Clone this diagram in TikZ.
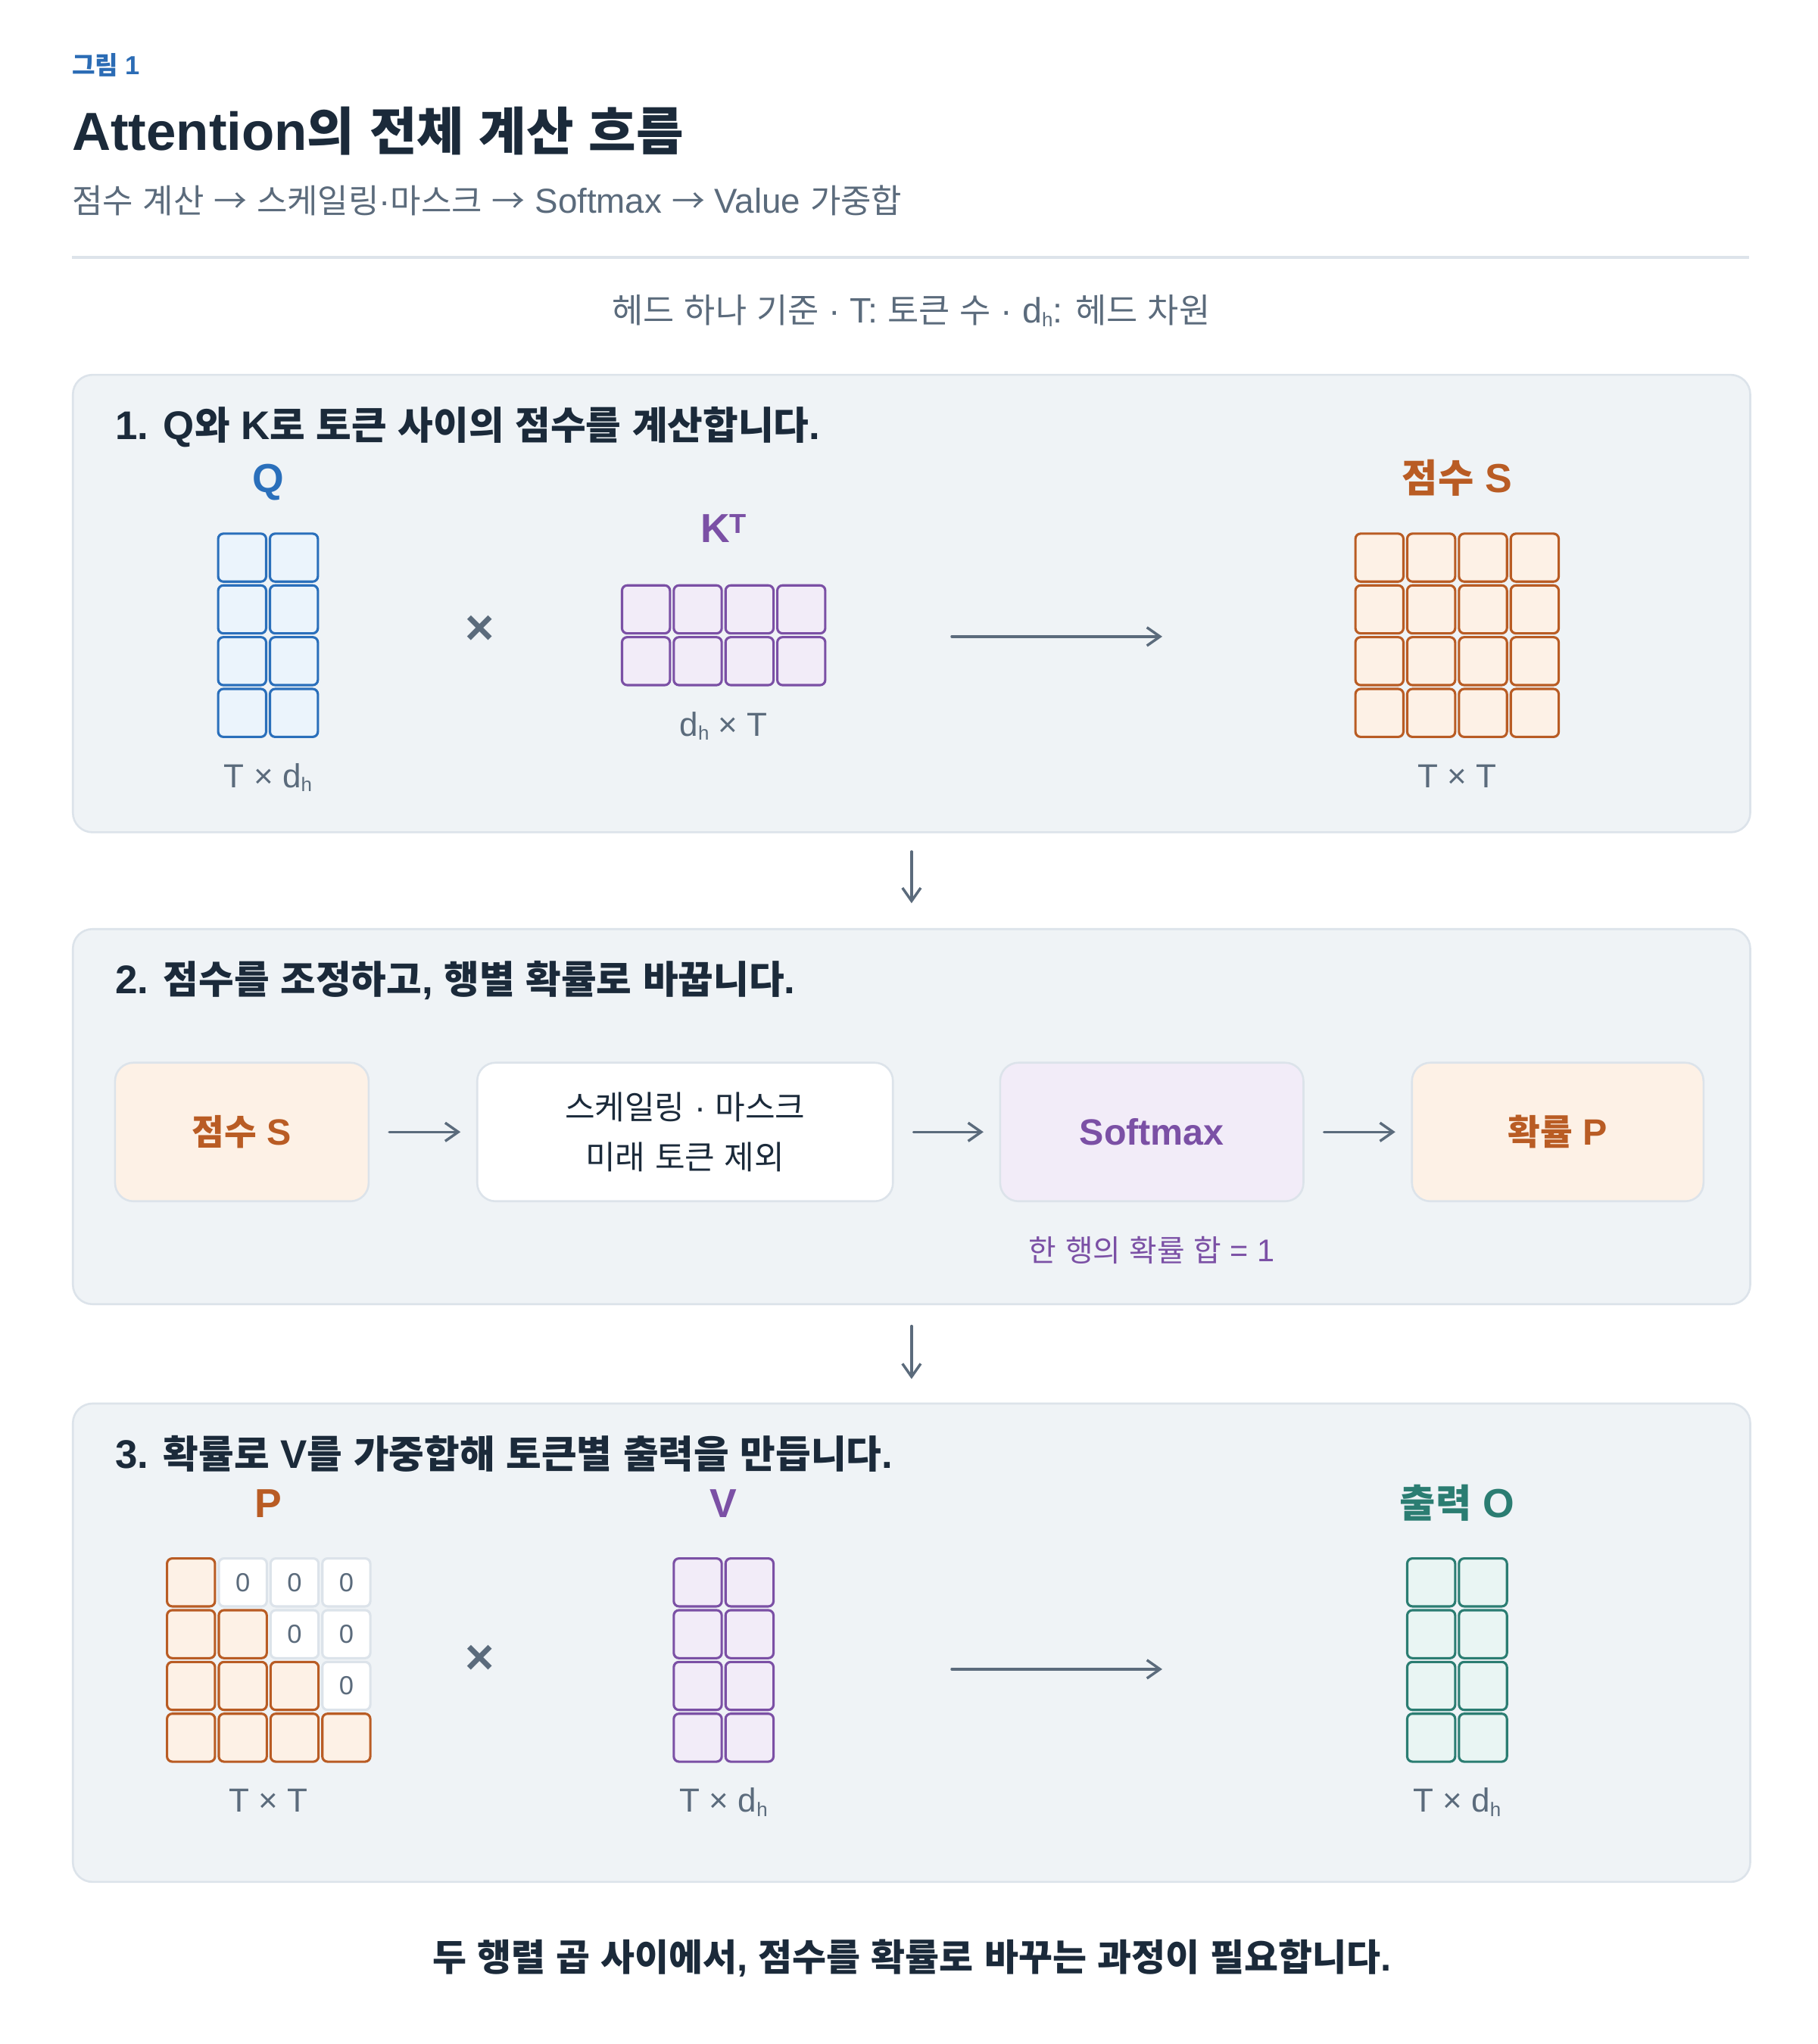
\documentclass[tikz,border=0pt]{standalone}
\usepackage{fontspec}
\setmainfont{Liberation Sans}
\newfontfamily\krfam{Noto Sans CJK KR}[Scale=0.96]
\usetikzlibrary{arrows.meta}
\XeTeXinterchartokenstate=1
\newXeTeXintercharclass\KRcls
\makeatletter
\@tempcnta="AC00
\loop
  \XeTeXcharclass\@tempcnta=\KRcls
  \ifnum\@tempcnta<"D7A3 \advance\@tempcnta\@ne
\repeat
\makeatother
\XeTeXinterchartoks 0 \KRcls = {\krfam}
\XeTeXinterchartoks 4095 \KRcls = {\krfam}
\XeTeXinterchartoks \KRcls 0 = {\rmfamily}
\XeTeXinterchartoks \KRcls 4095 = {\rmfamily}

\definecolor{ink}{HTML}{1B2A3A}
\definecolor{muted}{HTML}{5B6B7C}
\definecolor{figblue}{HTML}{2B6CB5}
\definecolor{rulec}{HTML}{DDE3EA}
\definecolor{panelfill}{HTML}{EFF3F6}
\definecolor{panelline}{HTML}{DCE3EA}
\definecolor{qblue}{HTML}{2A6FBB}
\definecolor{qfill}{HTML}{EBF4FC}
\definecolor{kpurple}{HTML}{7B50A5}
\definecolor{kfill}{HTML}{F2ECF8}
\definecolor{sorange}{HTML}{B95C24}
\definecolor{sfill}{HTML}{FDF1E6}
\definecolor{oteal}{HTML}{2B7D72}
\definecolor{ofill}{HTML}{E9F5F3}

\newcommand\hsub{\raisebox{-3pt}{\fontsize{15}{15}\selectfont h}}
\newcommand\tsup{\raisebox{7pt}{\fontsize{21}{21}\selectfont T}}
\newcommand\flowarrow{{\krfam →}}
\newcommand\matgrid[6]{%
  \foreach \cc in {1,...,#4}{\foreach \rr in {1,...,#5}{%
    \node[#6] (#1-\rr-\cc) at ({#2+(\cc-(#4+1)/2)*39.6},{#3+(\rr-(#5+1)/2)*39.6}) {};
  }}}

\tikzset{
  panel/.style={rectangle, rounded corners=15pt, draw=panelline, fill=panelfill, line width=1.5pt, inner sep=0pt},
  cellbase/.style={rectangle, rounded corners=4pt, minimum width=36.7pt, minimum height=36.7pt, inner sep=0pt, line width=1.8pt},
  qcell/.style={cellbase, draw=qblue, fill=qfill},
  kcell/.style={cellbase, draw=kpurple, fill=kfill},
  scell/.style={cellbase, draw=sorange, fill=sfill},
  ocell/.style={cellbase, draw=oteal, fill=ofill},
  zcell/.style={cellbase, draw=panelline, fill=white, text=muted, font=\fontsize{20}{20}\selectfont},
  mlabel/.style={anchor=base, inner sep=0pt, font=\bfseries\fontsize{31}{31}\selectfont},
  dimlabel/.style={anchor=base, inner sep=0pt, text=muted, font=\fontsize{25.5}{25.5}\selectfont},
  ptitle/.style={anchor=base west, inner sep=0pt, text=ink, font=\bfseries\fontsize{30.6}{30.6}\selectfont},
  timesop/.style={inner sep=0pt, text=muted, font=\bfseries\fontsize{38}{38}\selectfont},
  arr/.style={draw=muted, line width=2pt, line cap=round, -{Straight Barb[length=10pt,width=14pt,line width=2pt]}},
  flowbox/.style={rectangle, rounded corners=14pt, draw=panelline, line width=1.5pt, minimum height=106pt, inner sep=0pt, align=center},
}

\begin{document}
\begin{tikzpicture}[x=1pt,y=-1pt]
\fill[white] (0,0) rectangle (1390,1563.75);
\useasboundingbox (0,0) rectangle (1390,1563.75);

% header
\node[anchor=base west, inner sep=0pt, text=figblue, font=\bfseries\fontsize{20}{20}\selectfont] (fig) at (55,57) {그림 1};
\node[anchor=base west, inner sep=0pt, text=ink, font=\bfseries\fontsize{41}{41}\selectfont] (title) at (55,115) {Attention의 전체 계산 흐름};
\node[anchor=base west, inner sep=0pt, text=muted, font=\fontsize{26.5}{26.5}\selectfont] (sub) at (55,163) {점수 계산 \flowarrow{} 스케일링·마스크 \flowarrow{} Softmax \flowarrow{} Value 가중합};
\draw[rulec, line width=2.5pt] (55,197) -- (1338,197);
\node[anchor=base, inner sep=0pt, text=muted, font=\fontsize{27}{27}\selectfont] (note) at (697,247) {헤드 하나 기준 · T: 토큰 수 · d\hsub: 헤드 차원};

% panels
\node[panel, minimum width=1283pt, minimum height=350pt, anchor=north west] (p1) at (55,286) {};
\node[panel, minimum width=1283pt, minimum height=287pt, anchor=north west] (p2) at (55,710) {};
\node[panel, minimum width=1283pt, minimum height=366pt, anchor=north west] (p3) at (55,1073) {};
\draw[arr, shorten <=14pt, shorten >=19pt] (p1.south) -- (p2.north);
\draw[arr, shorten <=16pt, shorten >=18pt] (p2.south) -- (p3.north);

% panel 1
\node[ptitle] (t1) at (88,336) {1. Q와 K로 토큰 사이의 점수를 계산합니다.};
\matgrid{Q}{205}{486}{2}{4}{qcell}
\matgrid{K}{553.5}{486}{4}{2}{kcell}
\matgrid{S}{1114.5}{486}{4}{4}{scell}
\node[mlabel, text=qblue] (Qlab) at (205,377) {Q};
\node[mlabel, text=kpurple] (Klab) at (553.5,415) {K\tsup};
\node[mlabel, text=sorange] (Slab) at (1114.5,377) {점수 S};
\node[dimlabel] (Qdim) at (205,602.5) {T × d\hsub};
\node[dimlabel] (Kdim) at (553.5,563) {d\hsub{} × T};
\node[dimlabel] (Sdim) at (1114.5,602.5) {T × T};
\node[timesop] (x1) at (367,482) {×};
\coordinate (a1s) at (728,487);
\coordinate (a1e) at (889,487);
\draw[arr] (a1s) -- (a1e);

% panel 2
\node[ptitle] (t2) at (88,760) {2. 점수를 조정하고, 행별 확률로 바꿉니다.};
\node[flowbox, fill=sfill, minimum width=194pt, text=sorange, font=\bfseries\fontsize{28}{28}\selectfont] (b1) at (185,866) {점수 S};
\node[flowbox, fill=white, minimum width=318pt, text=ink, font=\fontsize{26}{38}\selectfont] (b2) at (524,866) {스케일링 · 마스크\\미래 토큰 제외};
\node[flowbox, fill=kfill, minimum width=232pt, text=kpurple, font=\bfseries\fontsize{28}{28}\selectfont] (b3) at (881,866) {Softmax};
\node[flowbox, fill=sfill, minimum width=223pt, text=sorange, font=\bfseries\fontsize{28}{28}\selectfont] (b4) at (1191.5,866) {확률 P};
\draw[arr, shorten <=15pt, shorten >=12pt] (b1.east) -- (b2.west);
\draw[arr, shorten <=15pt, shorten >=12pt] (b2.east) -- (b3.west);
\draw[arr, shorten <=15pt, shorten >=12pt] (b3.east) -- (b4.west);
\node[anchor=base, inner sep=0pt, text=kpurple, font=\fontsize{24}{24}\selectfont] (sumnote) at (881,965) {한 행의 확률 합 = 1};

% panel 3
\node[ptitle] (t3) at (88,1123) {3. 확률로 V를 가중합해 토큰별 출력을 만듭니다.};
\foreach \rr in {1,...,4}{\foreach \cc in {1,...,4}{%
  \ifnum\cc>\rr
    \node[zcell] (P-\rr-\cc) at ({205.5+(\cc-2.5)*39.6},{1270+(\rr-2.5)*39.6}) {0};
  \else
    \node[scell] (P-\rr-\cc) at ({205.5+(\cc-2.5)*39.6},{1270+(\rr-2.5)*39.6}) {};
  \fi
}}
\matgrid{V}{553.5}{1270}{2}{4}{kcell}
\matgrid{O}{1114.5}{1270}{2}{4}{ocell}
\node[mlabel, text=sorange] (Plab) at (205.5,1161) {P};
\node[mlabel, text=kpurple] (Vlab) at (553.5,1161) {V};
\node[mlabel, text=oteal] (Olab) at (1114.5,1161) {출력 O};
\node[dimlabel] (Pdim) at (205.5,1386.5) {T × T};
\node[dimlabel] (Vdim) at (553.5,1386.5) {T × d\hsub};
\node[dimlabel] (Odim) at (1114.5,1386.5) {T × d\hsub};
\node[timesop] (x2) at (367,1270) {×};
\coordinate (a3s) at (728,1277);
\coordinate (a3e) at (889,1277);
\draw[arr] (a3s) -- (a3e);

% footer
\node[anchor=base, inner sep=0pt, text=ink, font=\bfseries\fontsize{29.5}{29.5}\selectfont] (foot) at (697.5,1508) {두 행렬 곱 사이에서, 점수를 확률로 바꾸는 과정이 필요합니다.};
\end{tikzpicture}
\end{document}
